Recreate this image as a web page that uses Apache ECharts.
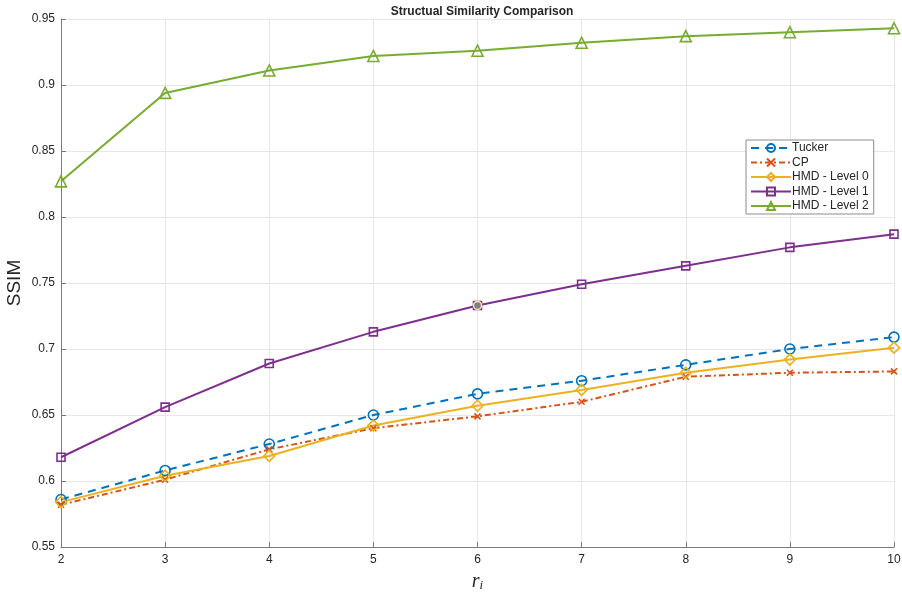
<!DOCTYPE html>
<html>
<head>
<meta charset="utf-8">
<script src="https://cdn.jsdelivr.net/npm/echarts@6/dist/echarts.min.js"></script>
<style>
  html, body { margin: 0; padding: 0; background: #fff; }
  #chart { width: 902px; height: 592px; }
</style>
</head>
<body>
<div id="chart"></div>
<script>
// Rank values r_i on the horizontal axis
const ranks = [2, 3, 4, 5, 6, 7, 8, 9, 10];

// SSIM per method
const tucker = [0.586, 0.608, 0.628, 0.650, 0.666, 0.676, 0.688, 0.700, 0.709];
const cp     = [0.582, 0.601, 0.624, 0.640, 0.649, 0.660, 0.679, 0.682, 0.683];
const hmd0   = [0.584, 0.604, 0.619, 0.642, 0.657, 0.669, 0.682, 0.692, 0.701];
const hmd1   = [0.618, 0.656, 0.689, 0.713, 0.733, 0.749, 0.763, 0.777, 0.787];
const hmd2   = [0.827, 0.894, 0.911, 0.922, 0.926, 0.932, 0.937, 0.940, 0.943];

const yTicks = [0.55, 0.6, 0.65, 0.7, 0.75, 0.8, 0.85, 0.9, 0.95];

const crossPath = 'path://M0,0L10,10M10,0L0,10';

function makeSeries(name, values, color, lineType, symbol, symbolSize) {
  return {
    name: name,
    type: 'line',
    data: ranks.map((r, i) => [r, values[i]]),
    symbol: symbol,
    symbolSize: symbolSize,
    showAllSymbol: true,
    lineStyle: { color: color, width: 2, type: lineType },
    itemStyle: { color: 'rgba(255,255,255,0)', borderColor: color, borderWidth: 1.6 },
    emphasis: { disabled: true },
    z: 3
  };
}

const series = [
  makeSeries('Tucker', tucker, '#0072BD', [8, 6], 'circle', 10),
  makeSeries('CP', cp, '#D95319', [6, 3, 2, 3], crossPath, 6),
  makeSeries('HMD - Level 0', hmd0, '#EDB120', 'solid', 'diamond', 11),
  makeSeries('HMD - Level 1', hmd1, '#7E2F8E', 'solid', 'rect', 8),
  makeSeries('HMD - Level 2', hmd2, '#77AC30', 'solid', 'triangle', 11)
];

// data tip on Level 1 at r_i = 6
series[3].markPoint = {
  symbol: 'circle',
  symbolSize: 8,
  data: [{ coord: [6, hmd1[4]] }],
  itemStyle: { color: '#808080', borderColor: '#f2e6b0', borderWidth: 1.5 },
  label: { show: false },
  silent: true
};

const chart = echarts.init(document.getElementById('chart'));
chart.setOption({
  animation: false,
  backgroundColor: '#fff',
  title: {
    text: 'Structual Similarity Comparison',
    left: 477, top: 1, textAlign: 'center',
    textStyle: { fontFamily: 'Liberation Sans, Arial', fontSize: 12, fontWeight: 'bold', color: '#262626' }
  },
  legend: {
    orient: 'vertical',
    left: 746, top: 140,
    itemWidth: 40, itemHeight: 10, itemGap: 2.5,
    padding: [2, 5, 2, 4],
    backgroundColor: '#fff',
    borderColor: '#8c8c8c', borderWidth: 1,
    borderRadius: 0,
    textStyle: { fontFamily: 'Liberation Sans, Arial', fontSize: 12, color: '#262626', padding: [0, 0, 0, -4] },
    data: series.map(s => s.name)
  },
  grid: { left: 61, right: 8, top: 19, bottom: 45, containLabel: false, outerBoundsMode: 'none' },
  xAxis: {
    type: 'value', min: 2, max: 10, interval: 1,
    name: '{r|r}{i|i}',
    nameLocation: 'middle', nameGap: 24,
    nameTextStyle: {
      rich: {
        r: { fontFamily: 'Liberation Serif, Times New Roman', fontStyle: 'italic', fontSize: 20, color: '#262626' },
        i: { fontFamily: 'Liberation Serif, Times New Roman', fontStyle: 'italic', fontSize: 13, color: '#262626', verticalAlign: 'bottom', padding: [8, 0, 0, 0] }
      }
    },
    axisLine: { show: true, lineStyle: { color: '#7a7a7a', width: 1 } },
    axisTick: { show: true, inside: true, length: 5, lineStyle: { color: '#7a7a7a' } },
    axisLabel: { fontFamily: 'Liberation Sans, Arial', fontSize: 12, color: '#262626', margin: 7 },
    splitLine: { show: true, lineStyle: { color: '#e6e6e6', width: 1 } }
  },
  yAxis: {
    type: 'value', min: 0.55, max: 0.95, interval: 0.05,
    name: 'SSIM',
    nameLocation: 'middle', nameGap: 37,
    nameMoveOverlap: false,
    nameTextStyle: { fontFamily: 'Liberation Sans, Arial', fontSize: 19, color: '#262626' },
    axisLine: { show: true, lineStyle: { color: '#7a7a7a', width: 1 } },
    axisTick: { show: true, inside: true, length: 5, lineStyle: { color: '#7a7a7a' } },
    axisLabel: {
      fontFamily: 'Liberation Sans, Arial', fontSize: 12, color: '#262626', margin: 6,
      formatter: v => {
        const t = yTicks.find(x => Math.abs(x - v) < 1e-6);
        return t === undefined ? '' : String(t);
      }
    },
    splitLine: { show: true, lineStyle: { color: '#e6e6e6', width: 1 } }
  },
  series: series
});
</script>
</body>
</html>
